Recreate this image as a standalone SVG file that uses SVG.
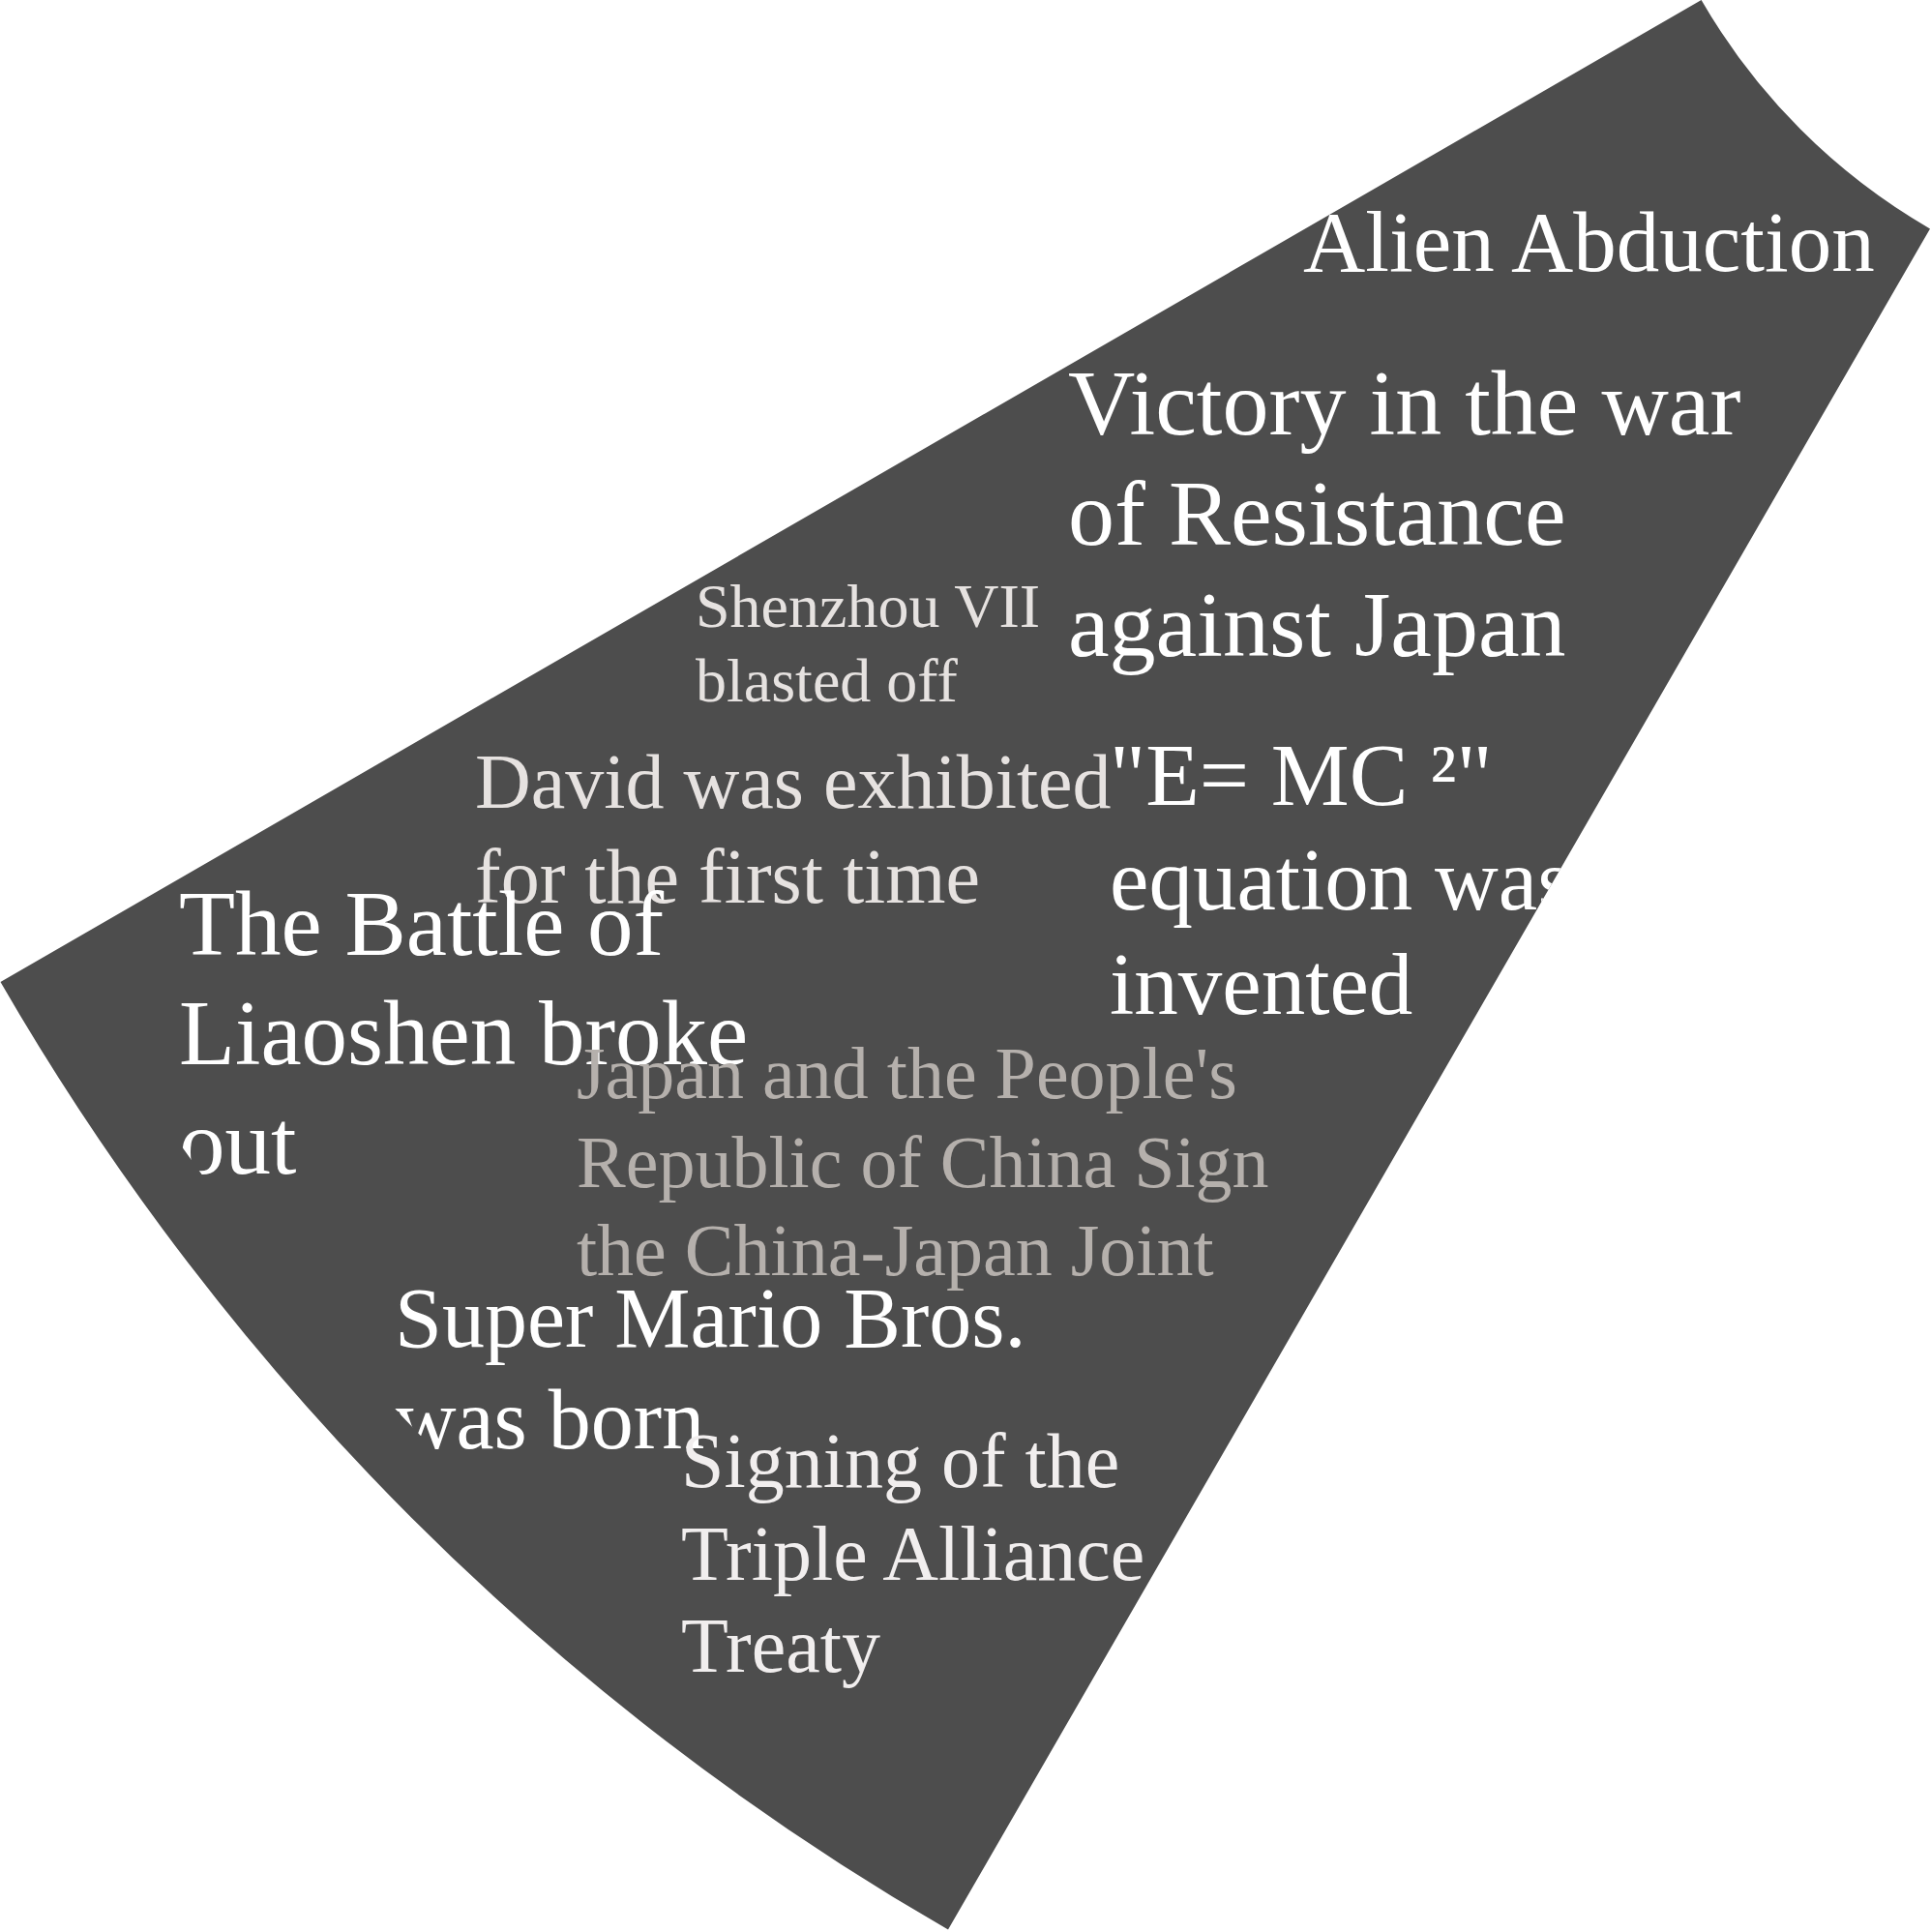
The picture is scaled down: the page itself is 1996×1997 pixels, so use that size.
<svg xmlns="http://www.w3.org/2000/svg" width="1996" height="1997" viewBox="0 0 1996 1997">
<style>
.lbl{font-family:"Liberation Serif","Times New Roman",serif;}
.w{fill:#ffffff;}
.g1{fill:#e6e2e0;}
.g2{fill:#b5b0ac;}
.g3{fill:#f1eeee;}
</style>
<defs>
<clipPath id="labelClip">
<path d="M 1758.6 0 L 57.7 982 A 2610 2610 0 0 0 1013 1937.3 L 1995 236.4 A 646 646 0 0 1 1758.6 0 Z"/>
</clipPath>
</defs>
<rect width="1996" height="1997" fill="#ffffff"/>
<g id="sector">
<path d="M 1758.6 0 L 0.5 1015 A 2676 2676 0 0 0 980 1994.5 L 1995 236.4 A 646 646 0 0 1 1758.6 0 Z" fill="#4d4d4d"/>
</g>
<g id="connectors"></g>
<g id="labels" clip-path="url(#labelClip)">
<g id="alien"><text class="lbl w" x="1347" y="280" font-size="89">Alien Abduction</text></g>
<g id="victory"><text class="lbl w" font-size="96"><tspan x="1104" y="449">Victory in the war</tspan><tspan x="1104" y="563">of Resistance</tspan><tspan x="1104" y="678">against Japan</tspan></text></g>
<g id="shenzhou"><text class="lbl g1" font-size="64"><tspan x="719" y="648">Shenzhou VII</tspan><tspan x="719" y="725">blasted off</tspan></text></g>
<g id="david"><text class="lbl g1" font-size="80"><tspan x="491" y="835">David was exhibited</tspan><tspan x="491" y="933">for the first time</tspan></text></g>
<g id="emc"><text class="lbl w" font-size="91"><tspan x="1147" y="832">"E= MC ²"</tspan><tspan x="1147" y="940">equation was</tspan><tspan x="1147" y="1048">invented</tspan></text></g>
<g id="battle"><text class="lbl w" font-size="95"><tspan x="185" y="987">The Battle of</tspan><tspan x="185" y="1100">Liaoshen broke</tspan><tspan x="185" y="1213">out</tspan></text></g>
<g id="japan"><text class="lbl g2" font-size="76"><tspan x="596" y="1135">Japan and the People's</tspan><tspan x="596" y="1227">Republic of China Sign</tspan><tspan x="596" y="1318">the China-Japan Joint</tspan></text></g>
<g id="mario"><text class="lbl w" font-size="88"><tspan x="408" y="1392">Super Mario Bros.</tspan><tspan x="408" y="1497">was born</tspan></text></g>
<g id="signing"><text class="lbl g3" font-size="80"><tspan x="704" y="1537">Signing of the</tspan><tspan x="704" y="1633">Triple Alliance</tspan><tspan x="704" y="1728">Treaty</tspan></text></g>
</g>
</svg>
